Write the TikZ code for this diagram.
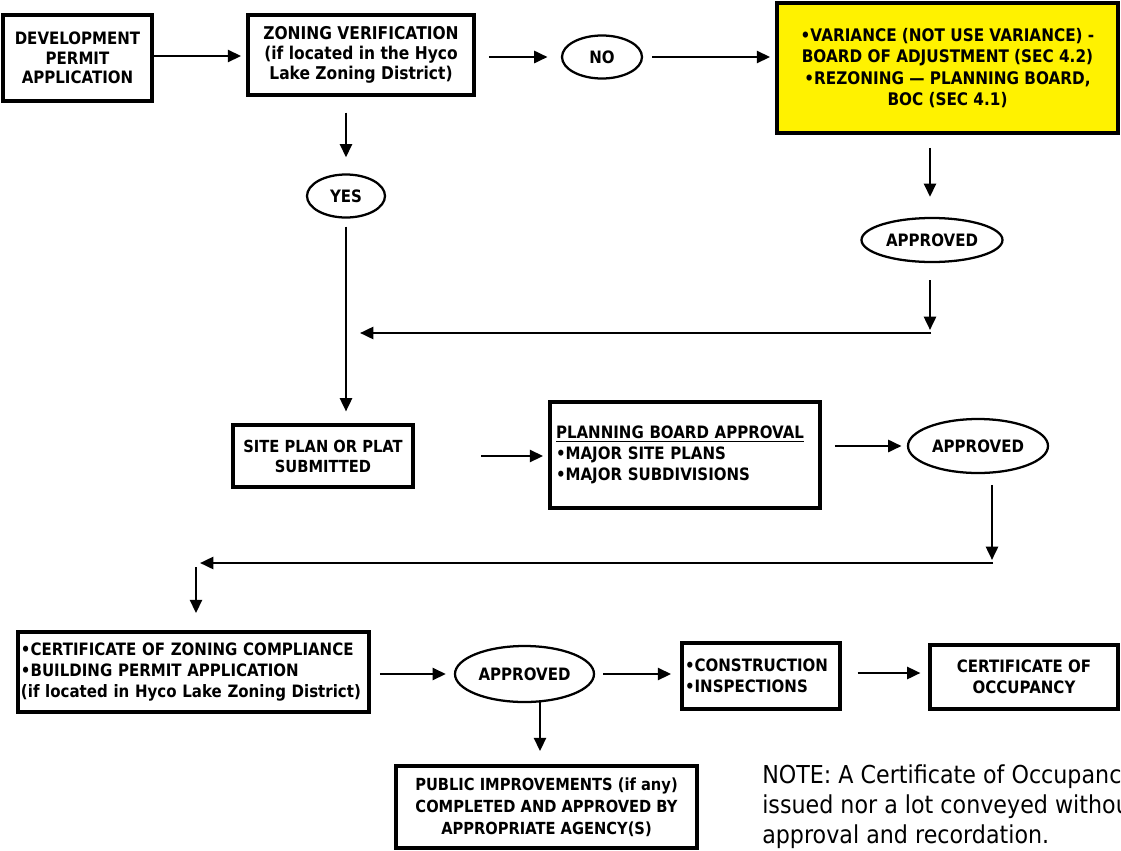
\documentclass[tikz,border=0pt]{standalone}
\usepackage{fontspec}
\setmainfont{DejaVu Sans}
\newfontfamily\tah[FakeStretch=0.88]{DejaVu Sans}
\newfontfamily\tahreg[FakeStretch=0.9]{DejaVu Sans}
\usetikzlibrary{shapes.geometric,arrows.meta}
\begin{document}
\begin{tikzpicture}[x=0.75pt,y=-0.75pt,
  sz/.style 2 args={minimum width=#1*0.75pt,minimum height=#2*0.75pt},
  box/.style={draw,line width=2.3pt,inner sep=0pt,align=center,
    font=\tah\bfseries\fontsize{12.8}{14.5}\selectfont},
  lbox/.style={box,align=left},
  oval/.style={draw,ellipse,line width=1.7pt,inner sep=0pt,
    font=\tah\bfseries\fontsize{12.8}{14.5}\selectfont},
  arr/.style={-{Triangle[length=10pt,width=9pt]},line width=1.9pt}]
\useasboundingbox (0,0) rectangle (1121,850);
\clip (0,0) rectangle (1121,850);

% top row
\node[box,sz={149}{86}] (dev) at (77.5,58) {DEVELOPMENT\\PERMIT\\APPLICATION};
\node[box,sz={226}{80},font=\tah\bfseries\fontsize{13.2}{15}\selectfont] (zon) at (361,55) {ZONING VERIFICATION\\(if located in the Hyco\\Lake Zoning District)};
\node[oval,sz={80}{43}] (no) at (602,57) {NO};
\node[box,sz={341}{130},fill=yellow,font=\tah\bfseries\fontsize{13}{16}\selectfont] (yel) at (947.5,68)
  {•VARIANCE (NOT USE VARIANCE) -\\BOARD OF ADJUSTMENT (SEC 4.2)\\•REZONING — PLANNING BOARD,\\BOC (SEC 4.1)};
\node[oval,sz={78}{43}] (yes) at (346,196) {YES};
\node[oval,sz={141}{44}] (app1) at (932,240) {APPROVED};

% middle row
\node[box,sz={180}{62},font=\tah\bfseries\fontsize{12.5}{15}\selectfont] (site) at (323,456) {SITE PLAN OR PLAT\\SUBMITTED};
\node[lbox,sz={270}{106},text width=258*0.75pt,font=\tah\bfseries\fontsize{12.8}{15.5}\selectfont] (plan) at (685,455)
  {\underline{PLANNING BOARD APPROVAL}\\•MAJOR SITE PLANS\\•MAJOR SUBDIVISIONS};
\node[oval,sz={140}{54}] (app2) at (978,446) {APPROVED};

% bottom row
\node[lbox,sz={351}{80},text width=345*0.75pt,font=\tah\bfseries\fontsize{12.8}{15.8}\selectfont] (cz) at (193.5,672)
  {•CERTIFICATE OF ZONING COMPLIANCE\\•BUILDING PERMIT APPLICATION\\(if located in Hyco Lake Zoning District)};
\node[oval,sz={139}{56}] (app3) at (524.5,674) {APPROVED};
\node[lbox,sz={158}{66},text width=152*0.75pt,font=\tah\bfseries\fontsize{12.8}{15.5}\selectfont] (con) at (761,676) {•CONSTRUCTION\\•INSPECTIONS};
\node[box,sz={188}{64},font=\tah\bfseries\fontsize{12.8}{15.5}\selectfont] (occ) at (1024,677) {CERTIFICATE OF\\OCCUPANCY};
\node[box,sz={301}{82},font=\tah\bfseries\fontsize{12.5}{16.5}\selectfont] (pub) at (546.5,807)
  {PUBLIC IMPROVEMENTS (if any)\\COMPLETED AND APPROVED BY\\APPROPRIATE AGENCY(S)};

\node[anchor=north west,inner sep=0pt,align=left,font=\tahreg\fontsize{18.5}{22.5}\selectfont] (note) at (762,764)
  {NOTE: A Certificate of Occupancy\\issued nor a lot conveyed without\\approval and recordation.};

% merge points
\coordinate (m1v) at (930,330);
\coordinate (m1a) at (931,333);
\coordinate (m1b) at (360,333);
\coordinate (m2v) at (992,560);
\coordinate (m2a) at (993,563);
\coordinate (m2b) at (200,563);
\coordinate (m2c) at (196,567);
\coordinate (a3s) at (540,700);

% connectors
\draw[arr,shorten >=4pt] (dev.east |- 0,56) -- (zon.west |- 0,56);
\draw[arr,shorten <=10pt,shorten >=10pt] (zon.east |- no.west) -- (no.west);
\draw[arr,shorten <=7pt,shorten >=4pt] (no.east) -- (yel.west |- no.east);
\draw[arr,shorten <=12pt,shorten >=12pt] (zon.south -| yes.north) -- (yes.north);
\draw[arr,shorten <=6pt,shorten >=9pt] (yes.south) -- (yes.south |- site.north);
\draw[arr,shorten <=10pt,shorten >=15pt] (yel.south -| m1v) -- (app1.north -| m1v);
\draw[arr,shorten <=13pt] (app1.south -| m1v) -- (m1v);
\draw[arr] (m1a) -- (m1b);
\draw[arr,shorten <=50pt,shorten >=4pt] (site.east) -- (plan.west |- site.east);
\draw[arr,shorten <=10pt,shorten >=4pt] (plan.east |- app2.west) -- (app2.west);
\draw[arr,shorten <=8pt] (app2.south -| m2v) -- (m2v);
\draw[arr] (m2a) -- (m2b);
\draw[arr,shorten >=13pt] (m2c) -- (m2c |- cz.north);
\draw[arr,shorten <=7pt,shorten >=6pt] (cz.east |- app3.west) -- (app3.west);
\draw[arr,shorten <=6pt,shorten >=7pt] (app3.east) -- (con.west |- app3.east);
\draw[arr,shorten <=12pt,shorten >=6pt] (con.east |- 0,673) -- (occ.west |- 0,673);
\draw[arr,shorten >=10pt] (a3s) -- (a3s |- pub.north);
\end{tikzpicture}
\end{document}
